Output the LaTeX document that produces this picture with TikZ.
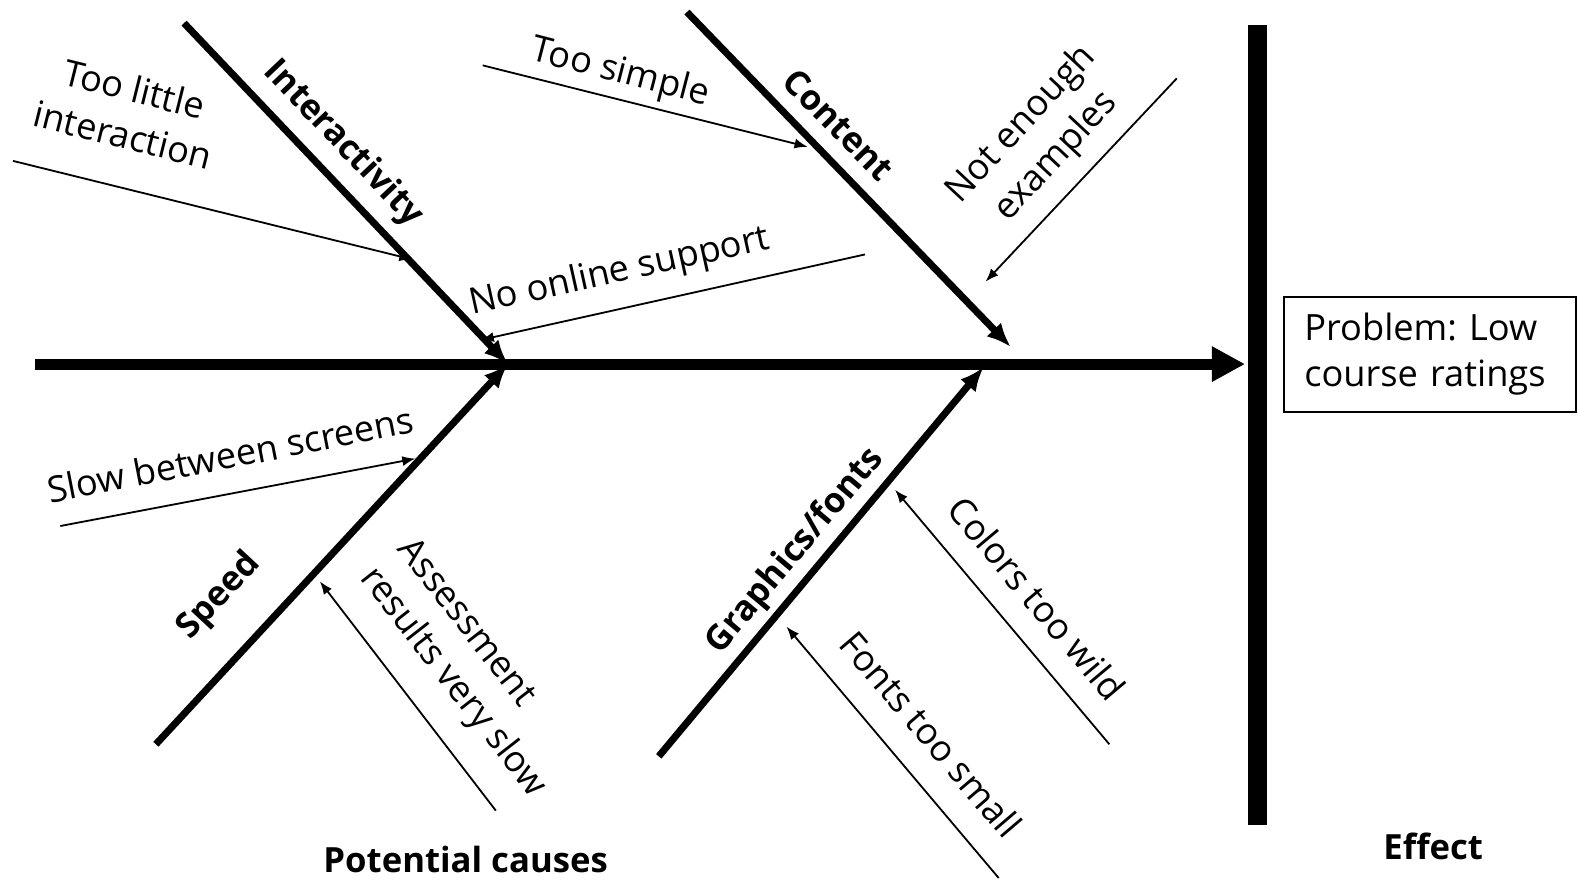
\documentclass[tikz,border=0pt]{standalone}
\usepackage{fontspec}
\setmainfont{Open Sans}
\usetikzlibrary{arrows.meta}
\frenchspacing
\begin{document}
\begin{tikzpicture}[x=1pt,y=-1pt,
  spine/.style={line width=11pt,-{Triangle[length=33pt,width=33pt]}},
  bone/.style={line width=7pt,-{Latex[length=24pt,width=20pt]}},
  twig/.style={line width=1.8pt,-{Latex[length=13pt,width=10pt]}},
  lbl/.style={font=\fontsize{36}{47}\selectfont, inner sep=0pt},
  blbl/.style={font=\fontsize{34.5}{46}\selectfont\bfseries, inner sep=0pt},
]
\useasboundingbox (0,0) rectangle (1568,875);
% spine and effect bar
\coordinate (spineS) at (35,362);
\coordinate (head) at (1238,362);
\coordinate (barT) at (1250,25);
\coordinate (barB) at (1250,820);
\draw[spine] (spineS) -- (head);
\draw[line width=19pt] (barT) -- (barB);
% bones
\coordinate (J1) at (505,362);
\coordinate (J2) at (1005,345);
\coordinate (J3) at (978,365);
\coordinate (iS) at (183,23);
\coordinate (cS) at (683,12);
\coordinate (sS) at (155,740);
\coordinate (gS) at (655,752);
\draw[bone] (iS) -- (J1);
\draw[bone] (sS) -- (J1);
\draw[bone] (cS) -- (J2);
\draw[bone] (gS) -- (J3);
% bone labels
\node[blbl, rotate=-46.5] (lInt) at (341,143) {Interactivity};
\node[blbl, rotate=-45.5] (lCon) at (834,124) {Content};
\node[blbl, rotate=47] (lSpd) at (218,593) {Speed};
\node[blbl, rotate=50] (lGra) at (791,548) {Graphics/fonts};
% twigs
\coordinate (a1) at (13,160);   \coordinate (b1) at (410,258);
\coordinate (a2) at (480,65);   \coordinate (b2) at (803,146);
\coordinate (a3) at (860,253);  \coordinate (b3) at (478,338);
\coordinate (a4) at (1170,78);  \coordinate (b4) at (980,280);
\coordinate (a5) at (60,523);   \coordinate (b5) at (413,456);
\coordinate (a6) at (493,806);  \coordinate (b6) at (318,578);
\coordinate (a7) at (1103,740); \coordinate (b7) at (890,487);
\coordinate (a8) at (993,873);  \coordinate (b8) at (782,623);
\foreach \i in {1,...,8} {\draw[twig] (a\i) -- (b\i);}
% twig labels
\node[lbl, rotate=-14, align=center] (t1) at (128,111) {Too little\\interaction};
\node[lbl, rotate=-14.5] (t2) at (617,73) {Too simple};
\node[lbl, rotate=12.5] (t3) at (616,271) {No online support};
\node[lbl, rotate=47, align=center] (t4) at (1033,140) {Not enough\\examples};
\node[lbl, rotate=11] (t5) at (229,452) {Slow between screens};
\node[lbl, rotate=-52, align=left] (t6) at (468,665) {Assessment\\results very slow};
\node[lbl, rotate=-50] (t7) at (1031,595) {Colors too wild};
\node[lbl, rotate=-49.5] (t8) at (926,730) {Fonts too small};
% effect box and captions
\node[draw, line width=1.8pt, anchor=north west, text width=250pt, inner xsep=20pt,
      inner ysep=0pt, minimum height=115pt, align=left,
      font=\fontsize{36}{46}\selectfont] (prob) at (1276,294) {Problem: Low\\course ratings};
\node[blbl] (eff) at (1425,842) {Effect};
\node[blbl] (pc) at (463,855) {Potential causes};
\end{tikzpicture}
\end{document}
